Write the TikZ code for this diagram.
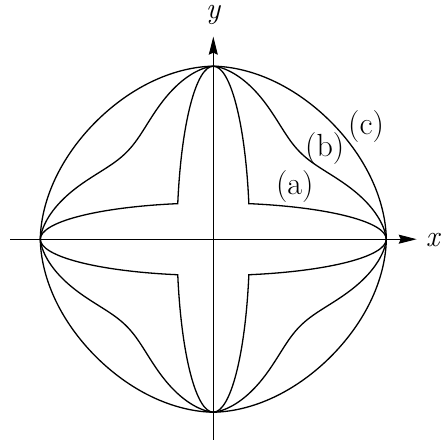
\documentclass[tikz,border=0pt]{standalone}
\usepackage{fontspec}
\setmainfont{Latin Modern Roman}
\usetikzlibrary{arrows.meta}
\begin{document}
\begin{tikzpicture}[x=1pt,y=1pt,
  curve/.style={line width=1.3pt},
  axis/.style={line width=0.9pt,-{Stealth[length=18pt,width=9pt,inset=2pt]}},
  lbl/.style={font=\fontsize{32}{32}\selectfont, inner sep=0pt, anchor=base},
  axlbl/.style={font=\fontsize{30}{30}\selectfont\itshape, inner sep=0pt, anchor=base}]
\useasboundingbox (0,0) rectangle (441,446);
\coordinate (O) at (213.3,206.8);
\coordinate (xs) at (10,206.8);
\coordinate (xe) at (416.7,206.8);
\coordinate (ys) at (213.3,6);
\coordinate (ye) at (213.3,409.3);
\draw[axis] (xs) -- (xe);
\draw[axis] (ys) -- (ye);
\node[axlbl] (xl) at (432.5,199.3) {x};
\node[axlbl] (yl) at (213,427.5) {y};
\node[lbl] (la) at (294.7,251.5) {(a)};
\node[lbl] (lb) at (324.7,289.6) {(b)};
\node[lbl] (lc) at (366,311) {(c)};
\begin{scope}[shift={(O)}]
  % (c)
  \draw[curve] plot[domain=0:360, samples=361]
    (\x:{173*(1-0.04*abs(sin(2*\x))*sqrt(abs(sin(2*\x))))}) -- cycle;
  % (b)
  \draw[curve] plot[domain=0:360, samples=361]
    (\x:{173*(1-0.29*abs(sin(2*\x))*sqrt(abs(sin(2*\x))))}) -- cycle;
  % (a)
  \foreach \a in {0,90,180,270}
    \draw[curve, rotate=\a] (173,0)
      arc[start angle=0, end angle=78.14, x radius=173, y radius=36.33]
      arc[start angle=11.86, end angle=90, x radius=36.33, y radius=173];
\end{scope}
\end{tikzpicture}
\end{document}
